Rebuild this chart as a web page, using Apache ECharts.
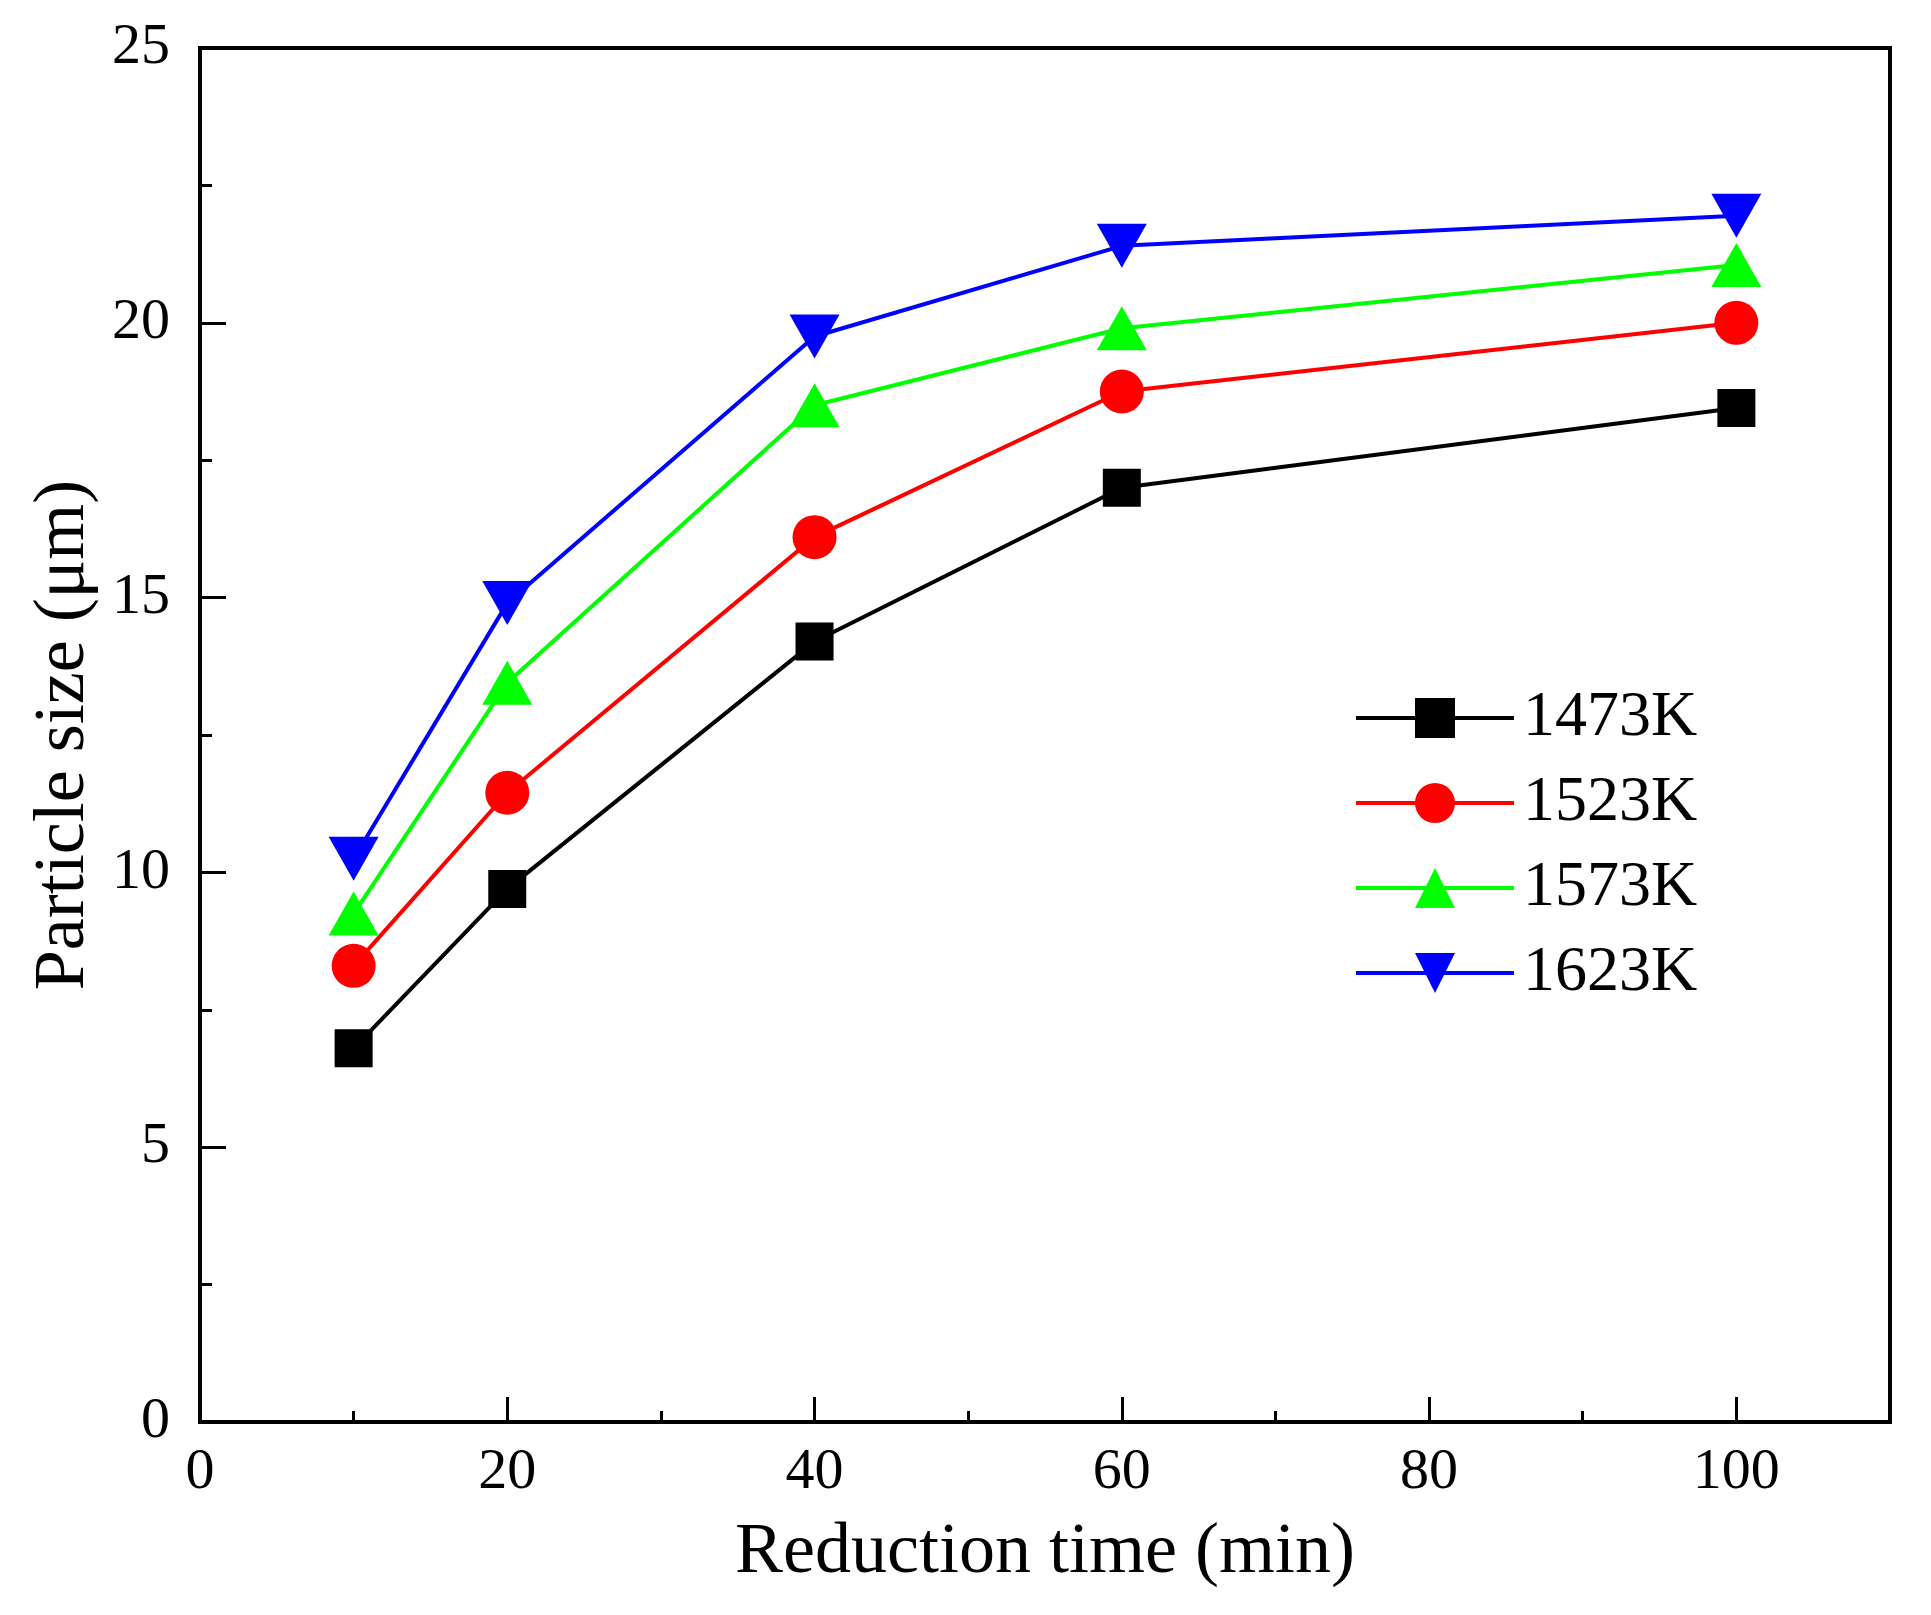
<!DOCTYPE html>
<html>
<head>
  <meta charset="utf-8" />
  <title>Particle size vs reduction time</title>
  <style>
    html, body { margin: 0; padding: 0; background: #ffffff; }
    #chart { width: 1931px; height: 1615px; }
  </style>
</head>
<body>
  <div id="chart"></div>
  <script src="https://cdn.jsdelivr.net/npm/echarts@6/dist/echarts.min.js"></script>
  <script>
    // reduction time (min)
    var times = [10, 20, 40, 60, 100];
    // particle size (um) per temperature
    var size1473 = [6.8, 9.7, 14.2, 17.0, 18.45];
    var size1523 = [8.3, 11.45, 16.1, 18.75, 20.0];
    var size1573 = [9.25, 13.45, 18.5, 19.9, 21.05];
    var size1623 = [10.25, 14.9, 19.75, 21.4, 21.95];
    var seriesNames = ['1473K', '1523K', '1573K', '1623K'];

    var _font = 'Liberation Serif, Times New Roman, serif';

    function pairs(xs, ys) {
      var out = [];
      for (var i = 0; i < xs.length; i++) {
        out.push([xs[i], ys[i]]);
      }
      return out;
    }

    function makeSeries(name, ys, color, symbol, size) {
      return {
        name: name,
        type: 'line',
        xAxisIndex: 0,
        data: pairs(times, ys),
        symbol: symbol,
        symbolSize: size,
        showSymbol: true,
        lineStyle: { width: 4, color: color },
        itemStyle: { color: color },
        emphasis: { disabled: true }
      };
    }

    var myChart = echarts.init(document.getElementById('chart'), null, { renderer: 'canvas' });
    var option = {
      animation: false,
      backgroundColor: '#ffffff',
      grid: {
        left: 200,
        top: 48,
        width: 1690,
        height: 1374,
        show: true,
        borderColor: '#000',
        borderWidth: 4,
        backgroundColor: 'transparent'
      },
      legend: {
        orient: 'vertical',
        left: 1349,
        top: 681,
        itemWidth: 158,
        itemHeight: 50,
        itemGap: 21,
        selectedMode: false,
        data: seriesNames,
        lineStyle: { width: 4 },
        textStyle: {
          fontFamily: _font,
          fontSize: 64,
          color: '#000',
          padding: [0, 0, 0, 4]
        }
      },
      xAxis: [{
        type: 'value',
        min: 0,
        max: 110,
        interval: 20,
        name: 'Reduction time (min)',
        nameLocation: 'middle',
        nameGap: 95,
        nameTextStyle: { fontFamily: _font, fontSize: 72, color: '#000' },
        axisLine: { show: true, lineStyle: { color: '#000', width: 4 } },
        axisTick: { show: true, inside: true, length: 25, lineStyle: { color: '#000', width: 3 } },
        axisLabel: {
          showMaxLabel: false,
          margin: 22,
          fontFamily: _font,
          fontSize: 58,
          color: '#000'
        },
        splitLine: { show: false }
      }, {
        // minor ticks only
        type: 'value',
        position: 'bottom',
        min: 0,
        max: 110,
        interval: 10,
        axisLine: { show: false },
        axisTick: { show: true, inside: true, length: 11, lineStyle: { color: '#000', width: 3 } },
        axisLabel: { show: false },
        splitLine: { show: false }
      }],
      yAxis: {
        type: 'value',
        min: 0,
        max: 25,
        interval: 5,
        name: 'Particle size (μm)',
        nameLocation: 'middle',
        nameGap: 100,
        nameTextStyle: { fontFamily: _font, fontSize: 72, color: '#000' },
        axisLine: { show: true, lineStyle: { color: '#000', width: 4 } },
        axisTick: { show: true, inside: true, length: 26, lineStyle: { color: '#000', width: 3 } },
        minorTick: { show: true, splitNumber: 2, length: 12, lineStyle: { color: '#000', width: 3 } },
        axisLabel: {
          margin: 30,
          fontFamily: _font,
          fontSize: 58,
          color: '#000'
        },
        splitLine: { show: false },
        minorSplitLine: { show: false }
      },
      series: [
        makeSeries(seriesNames[0], size1473, '#000000', 'rect', 38),
        makeSeries(seriesNames[1], size1523, '#ff0000', 'circle', 44),
        makeSeries(seriesNames[2], size1573, '#00ff00', 'triangle', [50, 44]),
        makeSeries(seriesNames[3], size1623, '#0000ff', 'path://M0,0 L10,0 L5,8.8 Z', [50, 44])
      ]
    };
    myChart.setOption(option);
  </script>
</body>
</html>
